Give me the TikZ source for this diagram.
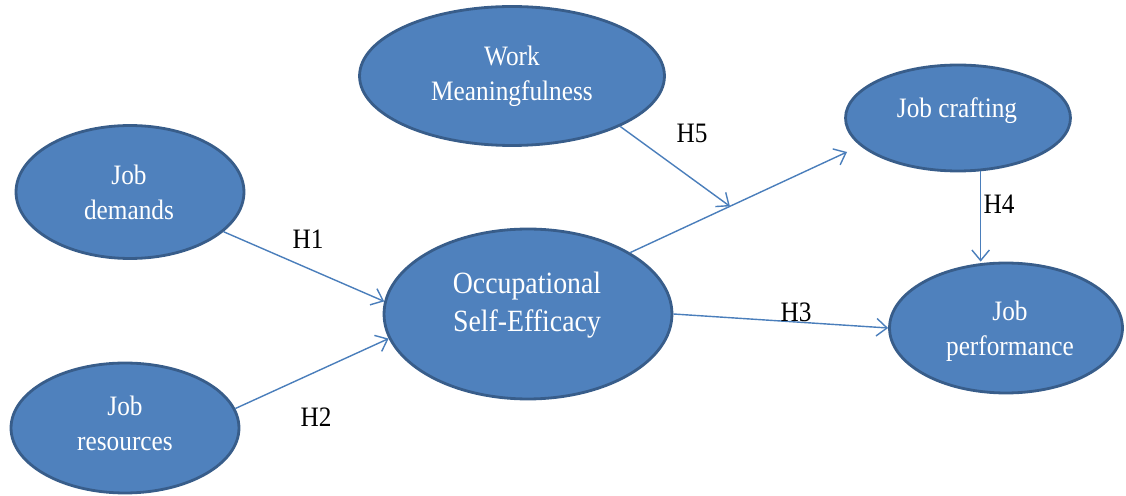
\documentclass[tikz,border=0pt]{standalone}
\usepackage{fontspec}
\setmainfont{Liberation Serif}[FakeStretch=0.9]
\usetikzlibrary{shapes.geometric,arrows.meta,calc}
\definecolor{oval}{HTML}{4F81BD}
\definecolor{ovalrim}{HTML}{385D8A}
\definecolor{linkblue}{HTML}{4A7EBB}
\begin{document}
\begin{tikzpicture}[x=0.02cm,y=-0.02cm,
  construct/.style={ellipse, fill=oval, draw=ovalrim, line width=1.6pt, inner sep=0pt},
  ctext/.style={text=white, align=center, inner sep=0pt, font=\fontsize{16}{20}\selectfont},
  hyp/.style={draw=linkblue, line width=0.8pt, -{Straight Barb[length=6pt,width=10pt]}},
  hlabel/.style={text=black, inner sep=0pt, font=\fontsize{16}{20}\selectfont}]
\useasboundingbox (0,0) rectangle (1126,496);

% constructs
\node[construct, minimum width=4.56cm, minimum height=2.66cm] (dem) at (130,192) {};
\node[construct, minimum width=4.56cm, minimum height=2.60cm] (res) at (125,428) {};
\node[construct, minimum width=6.10cm, minimum height=2.78cm] (work) at (512,76) {};
\node[construct, minimum width=5.76cm, minimum height=3.40cm] (ose) at (528,314) {};
\node[construct, minimum width=4.50cm, minimum height=2.12cm] (craft) at (958,118) {};
\node[construct, minimum width=4.66cm, minimum height=2.60cm] (perf) at (1006,328) {};

% construct names
\node[ctext] (dem-t) at (129,192) {Job\\demands};
\node[ctext] (res-t) at (125,423) {Job\\resources};
\node[ctext] (work-t) at (512,76) {Work\\Meaningfulness};
\node[ctext, font=\fontsize{17.6}{22}\selectfont] (ose-t) at (527,305) {Occupational\\Self-Efficacy};
\node[ctext] (craft-t) at (957,111) {Job crafting};
\node[ctext] (perf-t) at (1010,331) {Job\\performance};

% hypothesised paths
\draw[hyp] (dem.-23) -- (ose.175);
\draw[hyp] (res.10) -- (ose.-170);
\draw[hyp] (ose.31) -- ($(craft.center)+(-111,34)$) coordinate[pos=0.46] (mod);
\draw[hyp] (ose.east) -- (perf.west);
\draw[hyp] (craft.-67) -- (craft.-67 |- perf.north);
\draw[hyp] (work.-25) -- (mod);

% path labels
\node[hlabel] (h1) at (308,239) {H1};
\node[hlabel] (h2) at (316,417) {H2};
\node[hlabel] (h3) at (796,312) {H3};
\node[hlabel] (h4) at (999,204) {H4};
\node[hlabel] (h5) at (692,133) {H5};
\end{tikzpicture}
\end{document}
